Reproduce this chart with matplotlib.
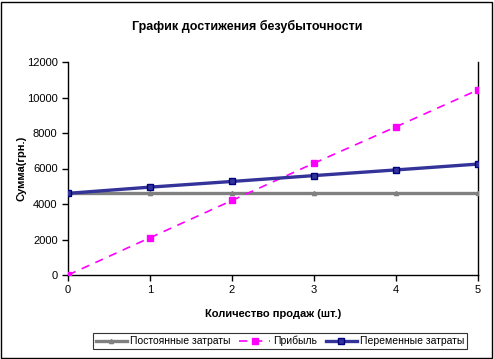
import matplotlib.pyplot as plt
from matplotlib.patches import Rectangle

plt.rcParams["font.family"] = ["Liberation Sans", "DejaVu Sans"]

units = [0, 1, 2, 3, 4, 5]
fixed_costs = [4600, 4600, 4600, 4600, 4600, 4600]
profit = [0, 2100, 4200, 6300, 8350, 10430]
variable_costs = [4600, 4950, 5270, 5600, 5920, 6250]

fig = plt.figure(figsize=(4.94, 3.59), dpi=100)
ax = fig.add_axes([68 / 494, 1 - 275 / 359, 410 / 494, 213 / 359])

ax.plot(units, fixed_costs, color="#808080", lw=2.4, marker="^", ms=3,
        mfc="#808080", mec="#808080", label="Постоянные затраты", zorder=3)
ax.plot(units, profit, color="#ff00ff", lw=1.2, ls=(0, (5, 4)), marker="s", ms=5,
        mfc="#ff00ff", mec="#ff00ff", label="Прибыль", zorder=4)
ax.plot(units, variable_costs, color="#333399", lw=2.4, marker="s", ms=4.5,
        mfc="#333399", mec="#000080", label="Переменные затраты", zorder=5)

ax.set_xlim(0, 5)
ax.set_ylim(0, 12000)
ax.set_xticks(units)
ax.set_yticks(range(0, 12001, 2000))
ax.tick_params(labelsize=8, length=4, width=1, direction="out")
ax.spines["top"].set_visible(False)
ax.spines["right"].set_linewidth(1)
ax.spines["left"].set_linewidth(1)
ax.spines["bottom"].set_linewidth(1)

ax.set_xlabel("Количество продаж (шт.)", fontsize=8, fontweight="bold", labelpad=10)
ax.set_ylabel("Сумма(грн.)", fontsize=8, fontweight="bold", labelpad=0)
fig.suptitle("График достижения безубыточности", fontsize=9, fontweight="bold", y=0.945)

leg = fig.legend(loc="center", bbox_to_anchor=(280 / 494, 1 - 341 / 359), ncol=3,
                 fontsize=7.5, frameon=True, fancybox=False, edgecolor="black",
                 handlelength=3, handletextpad=0.3, columnspacing=0.8,
                 borderpad=0.3)
leg.get_frame().set_linewidth(0.8)

fig.patches.append(Rectangle((0.002, 0.003), 0.994, 0.992, transform=fig.transFigure,
                             fill=False, edgecolor="black", lw=1))

fig.savefig("out.png", dpi=100)
